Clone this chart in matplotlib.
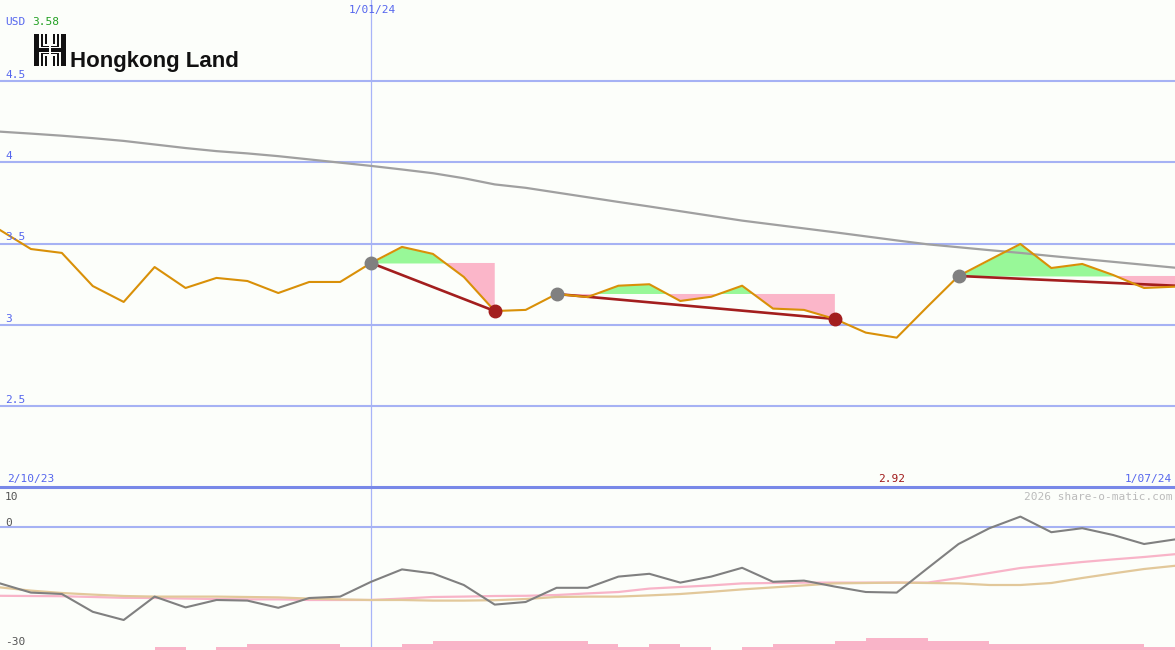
""" Hongkong Land - weekly price chart with trend segments and momentum panel """

import matplotlib
matplotlib.use('Agg')
import matplotlib.pyplot as plt     # type: ignore
from matplotlib.patches import Rectangle


# DATA
# =============================================================================
weeks = list(range(39))   # weekly bars, index 12 = 1/01/24

close = [3.583, 3.466, 3.442, 3.238, 3.140, 3.355, 3.226, 3.288, 3.269, 3.195,
         3.263, 3.263, 3.380, 3.479, 3.436, 3.294, 3.084, 3.091, 3.189, 3.170,
         3.240, 3.249, 3.146, 3.172, 3.240, 3.099, 3.091, 3.035, 2.951, 2.920,
         3.112, 3.300, 3.399, 3.497, 3.349, 3.374, 3.306, 3.226, 3.234]

long_ma = [4.189, 4.177, 4.164, 4.149, 4.132, 4.110, 4.088, 4.069, 4.055, 4.038,
           4.018, 3.998, 3.978, 3.956, 3.933, 3.902, 3.864, 3.843, 3.814, 3.785,
           3.756, 3.728, 3.699, 3.670, 3.641, 3.617, 3.593, 3.569, 3.544, 3.519,
           3.495, 3.477, 3.459, 3.442, 3.423, 3.405, 3.387, 3.369, 3.351]

# trend segments: (start week, end week, end value, has end dot)
trend_segments = [(12, 16, 3.084, True), (18, 27, 3.035, True), (31, 38, 3.240, False)]

momentum = [-14.1, -16.4, -16.75, -21.2, -23.25, -17.4, -20.1, -18.25, -18.4, -20.2,
            -17.75, -17.4, -13.7, -10.6, -11.6, -14.5, -19.4, -18.75, -15.2, -15.2,
            -12.4, -11.7, -13.9, -12.4, -10.2, -13.7, -13.4, -14.9, -16.25, -16.4,
            -10.3, -4.25, -0.3, 2.6, -1.3, -0.3, -2.0, -4.25, -3.1]

mom_fast = [-17.2, -17.25, -17.3, -17.5, -17.7, -17.75, -17.9, -18.0, -18.1, -18.1,
            -18.25, -18.25, -18.25, -17.9, -17.5, -17.4, -17.25, -17.2, -17.0, -16.6,
            -16.25, -15.4, -15.0, -14.6, -14.1, -14.0, -13.9, -13.9, -13.9, -13.9,
            -13.9, -12.75, -11.5, -10.25, -9.5, -8.75, -8.1, -7.5, -6.8]

mom_slow = [-15.1, -15.9, -16.5, -16.9, -17.25, -17.4, -17.4, -17.4, -17.5, -17.6,
            -17.9, -18.1, -18.25, -18.25, -18.4, -18.4, -18.3, -18.0, -17.5, -17.4,
            -17.4, -17.1, -16.75, -16.2, -15.6, -15.1, -14.6, -14.1, -14.0, -13.9,
            -14.0, -14.1, -14.5, -14.5, -14.0, -12.75, -11.6, -10.5, -9.7]

volume = [0, 0, 0, 0, 0, 1, 0, 1, 2, 2,
          2, 1, 1, 2, 3, 3, 3, 3, 3, 2,
          1, 2, 1, 0, 1, 2, 2, 3, 4, 4,
          3, 3, 2, 2, 2, 2, 2, 1]

price_ticks = [4.5, 4, 3.5, 3, 2.5]
price_tick_labels = ['4.5', '4', '3.5', '3', '2.5']
mom_ticks = [10, 0, -30]
mom_tick_labels = ['10', '0', '-30']
date_labels = ['2/10/23', '1/01/24', '1/07/24']
year_week = 12
low_label = '2.92'
last_label = '3.58'


# STYLE
# =============================================================================
BG = '#FCFEFA'
GRID = '#A6B2F4'
BLUE_TXT = '#5566EE'
ORANGE = '#D99008'
DARKRED = '#A31E1E'
GREEN_FILL = '#98F898'
PINK_FILL = '#FBB6C9'
MONO = 'DejaVu Sans Mono'

W, H = 1175, 650
fig = plt.figure(figsize=(W / 100, H / 100), dpi=100, facecolor=BG)

split = 487  # pixel row of panel separator
ax1 = fig.add_axes([0, 1 - split / H, 1, split / H], facecolor=BG)
ax2 = fig.add_axes([0, 0, 1, 1 - split / H], facecolor=BG)

for ax in (ax1, ax2):
    ax.set_xlim(0, 38)
    for s in ax.spines.values():
        s.set_visible(False)
    ax.set_xticks([])
    ax.set_yticks([])
    ax.axvline(year_week, color='#A8B4F8', lw=0.9, zorder=1)

# Main price panel
ax1.set_ylim(2.0, 5.0)
for t in price_ticks:
    ax1.axhline(t, color=GRID, lw=1.5, zorder=1)

ax1.plot(weeks, long_ma, color='#A0A0A0', lw=1.6, zorder=3)

for start, end, end_val, has_dot in trend_segments:
    xs = weeks[start:end + 1]
    ys = close[start:end + 1]
    level = close[start]
    ax1.fill_between(xs, ys, level, where=[y >= level for y in ys],
                     interpolate=True, color=GREEN_FILL, lw=0, zorder=2)
    ax1.fill_between(xs, ys, level, where=[y <= level for y in ys],
                     interpolate=True, color=PINK_FILL, lw=0, zorder=2)
    ax1.plot([start, end], [level, end_val], color=DARKRED, lw=1.9, zorder=4)
    ax1.plot(start, level, 'o', color='#808080', ms=9, zorder=6)
    if has_dot:
        ax1.plot(end, end_val, 'o', color=DARKRED, ms=9, zorder=6)

ax1.plot(weeks, close, color=ORANGE, lw=1.5, zorder=5)

# Lower momentum panel
ax2.set_ylim(-30.75, 10)
ax2.axhline(0, color=GRID, lw=1.5, zorder=1)
ax2.plot(weeks, mom_fast, color='#F8B4C8', lw=1.6, zorder=3)
ax2.plot(weeks, mom_slow, color='#E2C89A', lw=1.6, zorder=3)
ax2.plot(weeks, momentum, color='#808080', lw=1.5, zorder=4)

axv = ax2.twinx()
axv.set_ylim(0, (H - split) / 3)
axv.set_axis_off()
axv.bar([w + 0.5 for w in weeks[:len(volume)]], volume, width=1.0,
        color='#F9B4C8', lw=0, zorder=2)

# separator line
fig.add_artist(plt.Line2D([0, 1], [1 - split / H] * 2, color='#7888E8', lw=2.2))


def ptext(x, y, s, **kw):
    """ text placed in pixel coordinates (top-left origin) """
    kw.setdefault('family', MONO)
    kw.setdefault('fontsize', 8)
    fig.text(x / W, 1 - y / H, s, **kw)


ptext(5, 25, 'USD', color=BLUE_TXT, va='baseline')
ptext(32, 25, last_label, color='#22A022', va='baseline')
for t, lab in zip(price_ticks, price_tick_labels):
    y = split - (t - 2.0) * split / 3.0
    ptext(5, y - 3, lab, color=BLUE_TXT, va='baseline')
ptext(372, 13, date_labels[1], color=BLUE_TXT, ha='center', va='baseline')
ptext(7, 482, date_labels[0], color=BLUE_TXT, va='baseline')
ptext(1172, 482, date_labels[2], color=BLUE_TXT, ha='right', va='baseline')
ptext(892, 482, low_label, color='#A01818', ha='center', va='baseline')
ptext(1172, 500, '2026 share-o-matic.com', color='#BBBBBB', ha='right', va='baseline')
for t, lab, y in zip(mom_ticks, mom_tick_labels, [500, 526, 645]):
    ptext(5, y, lab, color='#555555', va='baseline')

# Logo: stylised H mark plus wordmark
logo = [(34, 34, 5, 32), (61, 34, 5, 32),            # outer uprights
        (41, 34, 2, 13), (57, 34, 2, 13),            # inner top uprights
        (41, 53, 2, 13), (57, 53, 2, 13),            # inner bottom uprights
        (45, 34, 2, 10), (53, 34, 2, 10),
        (45, 56, 2, 10), (53, 56, 2, 10),
        (41, 46, 8, 1), (51, 46, 8, 1),
        (41, 53, 8, 1), (51, 53, 8, 1),
        (34, 48, 15, 4), (51, 48, 15, 4)]            # cross bar with split
for x, y, w, h in logo:
    fig.add_artist(Rectangle((x / W, 1 - (y + h) / H), w / W, h / H,
                             transform=fig.transFigure, color='#111111', lw=0))
ptext(70, 67, 'Hongkong Land', family='Liberation Sans', fontsize=16,
      fontweight='bold', color='#111111', va='baseline')

fig.savefig('out.png', dpi=100, facecolor=BG)
